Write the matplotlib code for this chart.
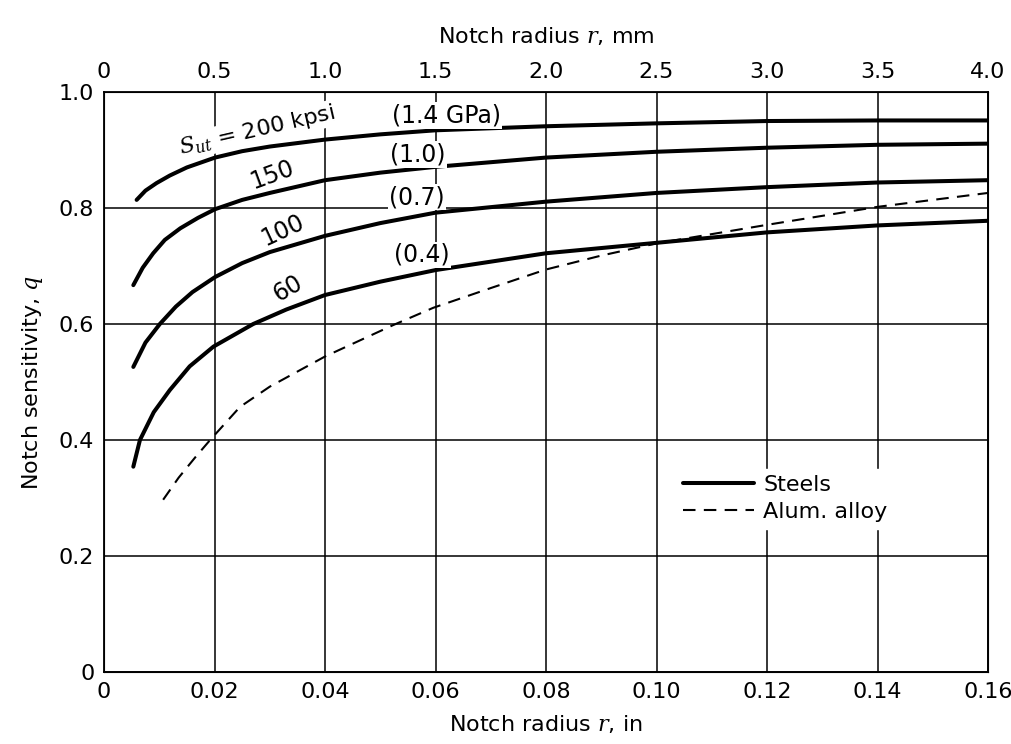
import numpy as np
import matplotlib.pyplot as plt

plt.rcParams['font.family'] = ['DejaVu Sans']
plt.rcParams['mathtext.fontset'] = 'dejavuserif'

# notch radius r (in) and notch sensitivity q
r_200 = [0.0059, 0.0075, 0.0095, 0.0119, 0.015, 0.0201, 0.025, 0.03, 0.04, 0.05,
         0.06, 0.08, 0.10, 0.12, 0.14, 0.16]
q_200 = [0.814, 0.830, 0.843, 0.856, 0.870, 0.887, 0.898, 0.906, 0.918, 0.927,
         0.934, 0.941, 0.946, 0.950, 0.951, 0.951]

r_150 = [0.0053, 0.007, 0.0089, 0.011, 0.0138, 0.017, 0.0201, 0.025, 0.03, 0.04,
         0.05, 0.06, 0.08, 0.10, 0.12, 0.14, 0.16]
q_150 = [0.667, 0.697, 0.722, 0.745, 0.765, 0.783, 0.798, 0.814, 0.826, 0.848,
         0.861, 0.871, 0.887, 0.897, 0.904, 0.909, 0.911]

r_100 = [0.0053, 0.0075, 0.0101, 0.013, 0.016, 0.0201, 0.025, 0.03, 0.04, 0.05,
         0.06, 0.08, 0.10, 0.12, 0.14, 0.16]
q_100 = [0.526, 0.568, 0.600, 0.630, 0.655, 0.681, 0.705, 0.724, 0.752, 0.774,
         0.792, 0.811, 0.826, 0.836, 0.844, 0.848]

r_60 = [0.0053, 0.0065, 0.009, 0.0119, 0.0155, 0.0198, 0.027, 0.033, 0.04, 0.05,
        0.06, 0.08, 0.10, 0.12, 0.14, 0.16]
q_60 = [0.354, 0.400, 0.448, 0.486, 0.527, 0.561, 0.600, 0.625, 0.650, 0.673,
        0.693, 0.722, 0.740, 0.758, 0.770, 0.778]

r_alum = [0.0107, 0.0135, 0.0165, 0.0192, 0.0246, 0.03, 0.04, 0.0523, 0.0596, 0.07,
          0.08, 0.09, 0.10, 0.12, 0.14, 0.16]
q_alum = [0.297, 0.335, 0.370, 0.400, 0.457, 0.492, 0.544, 0.598, 0.628, 0.662,
          0.694, 0.718, 0.739, 0.771, 0.802, 0.826]

in_ticks = [0, 0.02, 0.04, 0.06, 0.08, 0.10, 0.12, 0.14, 0.16]
in_labels = ['0', '0.02', '0.04', '0.06', '0.08', '0.10', '0.12', '0.14', '0.16']
mm_labels = ['0', '0.5', '1.0', '1.5', '2.0', '2.5', '3.0', '3.5', '4.0']
q_ticks = [0, 0.2, 0.4, 0.6, 0.8, 1.0]
q_labels = ['0', '0.2', '0.4', '0.6', '0.8', '1.0']

fig = plt.figure(figsize=(10.12, 7.44), dpi=100)
ax = fig.add_axes([0.1028, 0.0968, 0.8735, 0.7795])

lw = 2.9
for r, q, lab in [(r_200, q_200, 'Steels'), (r_150, q_150, None),
                  (r_100, q_100, None), (r_60, q_60, None)]:
    ax.plot(r, q, color='black', lw=lw, solid_capstyle='round',
            solid_joinstyle='round', label=lab, zorder=3)
ax.plot(r_alum, q_alum, color='black', lw=1.5, dashes=(6, 4), label='Alum. alloy', zorder=3)

ax.set_xlim(0, 0.16)
ax.set_ylim(0, 1.0)
ax.set_xticks(in_ticks)
ax.set_xticklabels(in_labels)
ax.set_yticks(q_ticks)
ax.set_yticklabels(q_labels)
ax.grid(True, color='black', lw=1.1)
ax.tick_params(length=0, labelsize=16, pad=7)
for s in ax.spines.values():
    s.set_linewidth(1.3)

top = ax.twiny()
top.set_xlim(0, 0.16)
top.set_xticks(in_ticks)
top.set_xticklabels(mm_labels)
top.tick_params(length=0, labelsize=16, pad=7)
top.set_xlabel('Notch radius $\\it{r}$, mm', fontsize=16, labelpad=14)

ax.set_xlabel('Notch radius $\\it{r}$, in', fontsize=16, labelpad=8)
ax.set_ylabel('Notch sensitivity, $\\it{q}$', fontsize=16, labelpad=10)

wb = dict(facecolor='white', edgecolor='none', pad=1)
ax.text(0.0277, 0.934, '$S_{ut}$ = 200 kpsi', fontsize=16, rotation=13,
        ha='center', va='center', bbox=wb, zorder=4)
ax.text(0.062, 0.96, '(1.4 GPa)', fontsize=17, ha='center', va='center', bbox=wb, zorder=4)
ax.text(0.0568, 0.893, '(1.0)', fontsize=17, ha='center', va='center', bbox=wb, zorder=4)
ax.text(0.0566, 0.819, '(0.7)', fontsize=17, ha='center', va='center', bbox=wb, zorder=4)
ax.text(0.0575, 0.719, '(0.4)', fontsize=17, ha='center', va='center', bbox=wb, zorder=4)
ax.text(0.0304, 0.857, '150', fontsize=17, rotation=20, ha='center', va='center', zorder=4)
ax.text(0.0324, 0.762, '100', fontsize=17, rotation=25, ha='center', va='center', zorder=4)
ax.text(0.0333, 0.662, '60', fontsize=17, rotation=30, ha='center', va='center', zorder=4)

leg = ax.legend(loc='upper left', bbox_to_anchor=(0.635, 0.37), fontsize=16,
                frameon=True, fancybox=False, handlelength=3.2, handletextpad=0.4,
                labelspacing=0.3, borderpad=0.3)
leg.get_frame().set_edgecolor('white')
leg.get_frame().set_facecolor('white')
leg.get_frame().set_alpha(1)
leg.set_zorder(5)

fig.savefig('out.png', dpi=100)
